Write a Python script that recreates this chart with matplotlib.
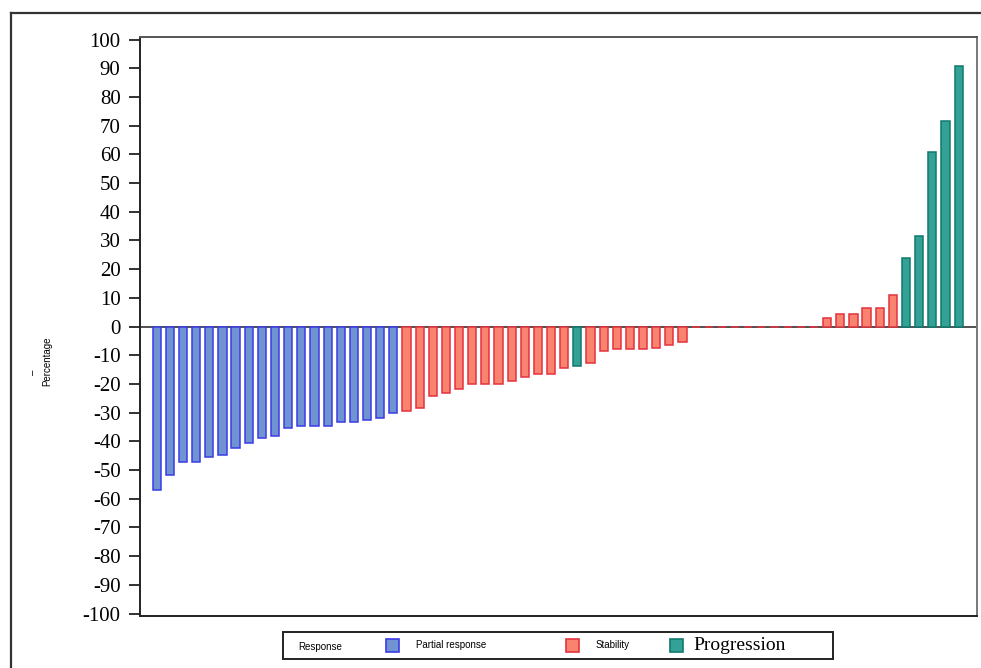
import matplotlib
matplotlib.use("Agg")
import matplotlib.pyplot as plt
from matplotlib.patches import Rectangle
from matplotlib.lines import Line2D

# best change from baseline per patient, sorted (waterfall)
pct_change = [
    -57.1, -51.6, -47.3, -47.2, -45.3, -44.9, -42.3, -40.6, -38.8, -38.3,
    -35.3, -34.8, -34.7, -34.7, -33.2, -33.2, -32.5, -31.7, -30.0,
    -29.3, -28.2, -24.1, -23.0, -21.9, -19.9, -19.9, -19.9, -18.9, -17.4,
    -16.7, -16.7, -14.5,
    -13.8,
    -12.7, -8.5, -7.8, -7.8, -7.8, -7.5, -6.3, -5.4,
    0, 0, 0, 0, 0, 0, 0, 0, 0, 0,
    3.0, 4.5, 4.5, 6.6, 6.6, 11.0,
    24.0, 31.6, 60.8, 71.6, 90.7,
]
response = (["Partial response"] * 19 + ["Stability"] * 13 + ["Progression"]
            + ["Stability"] * 24 + ["Progression"] * 5)

legend_labels = ["Partial response", "Stability", "Progression"]
y_ticks = list(range(-100, 101, 10))

fill = {"Partial response": "#7093d2", "Stability": "#f8836f", "Progression": "#33a195"}
edge = {"Partial response": "#3b3be6", "Stability": "#e6323e", "Progression": "#0f7a6d"}

W, H = 981, 668
fig = plt.figure(figsize=(W / 100, H / 100), dpi=100)

def fx(px):
    return px / W

def fy(py):
    return 1 - py / H

# outer frame
fig.add_artist(Line2D([fx(11), fx(11)], [fy(13), 0], color="#333333", lw=1.6))
fig.add_artist(Line2D([fx(11), 1], [fy(13), fy(13)], color="#333333", lw=1.6))

ax = fig.add_axes([fx(140), fy(616), fx(977) - fx(140), fy(37) - fy(616)])

x = list(range(len(pct_change)))
ax.axhline(0, color="#333333", lw=1.2, zorder=1)
ax.bar(x, pct_change, width=0.62,
       color=[fill[r] for r in response],
       edgecolor=[edge[r] for r in response], linewidth=1.1, zorder=2)

ax.set_xlim(-1.27, 62.4)
ax.set_ylim(-100.85, 100.9)
ax.set_yticks(y_ticks)
ax.set_yticklabels([str(t) for t in y_ticks], fontsize=15, family="Liberation Serif")
ax.tick_params(axis="y", length=8, width=1.3, pad=6, color="#222222")
ax.set_xticks([])
for s in ["left", "bottom"]:
    ax.spines[s].set_color("#222222")
    ax.spines[s].set_linewidth(1.4)
ax.spines["top"].set_color("#555555")
ax.spines["top"].set_linewidth(1.4)
ax.spines["right"].set_color("#777777")
ax.spines["right"].set_linewidth(1.4)

# y label
fig.text(fx(47), fy(361), "Percentage", rotation=90, fontsize=7,
         family="Liberation Sans", ha="center", va="center")
fig.text(fx(33), fy(372), "\u2013", rotation=90, fontsize=7,
         family="Liberation Sans", ha="center", va="center")

# legend box
fig.add_artist(Rectangle((fx(283), fy(659)), fx(833) - fx(283), fy(632) - fy(659),
                         fill=False, edgecolor="#222222", lw=1.4))
fig.text(fx(298), fy(647), "Response", fontsize=7, family="Liberation Sans", va="center")
sq_left = [386, 566, 670]
txt_left = [416, 596, 693]
for lab, sx, tx in zip(legend_labels, sq_left, txt_left):
    fig.add_artist(Rectangle((fx(sx), fy(652)), fx(13), fy(639) - fy(652),
                             facecolor=fill[lab], edgecolor=edge[lab], lw=1.2))
    if lab == "Progression":
        fig.text(fx(tx), fy(646), lab, fontsize=14, family="Liberation Serif", va="center")
    else:
        fig.text(fx(tx), fy(645), lab, fontsize=7, family="Liberation Sans", va="center")

fig.savefig("out.png", dpi=100)
